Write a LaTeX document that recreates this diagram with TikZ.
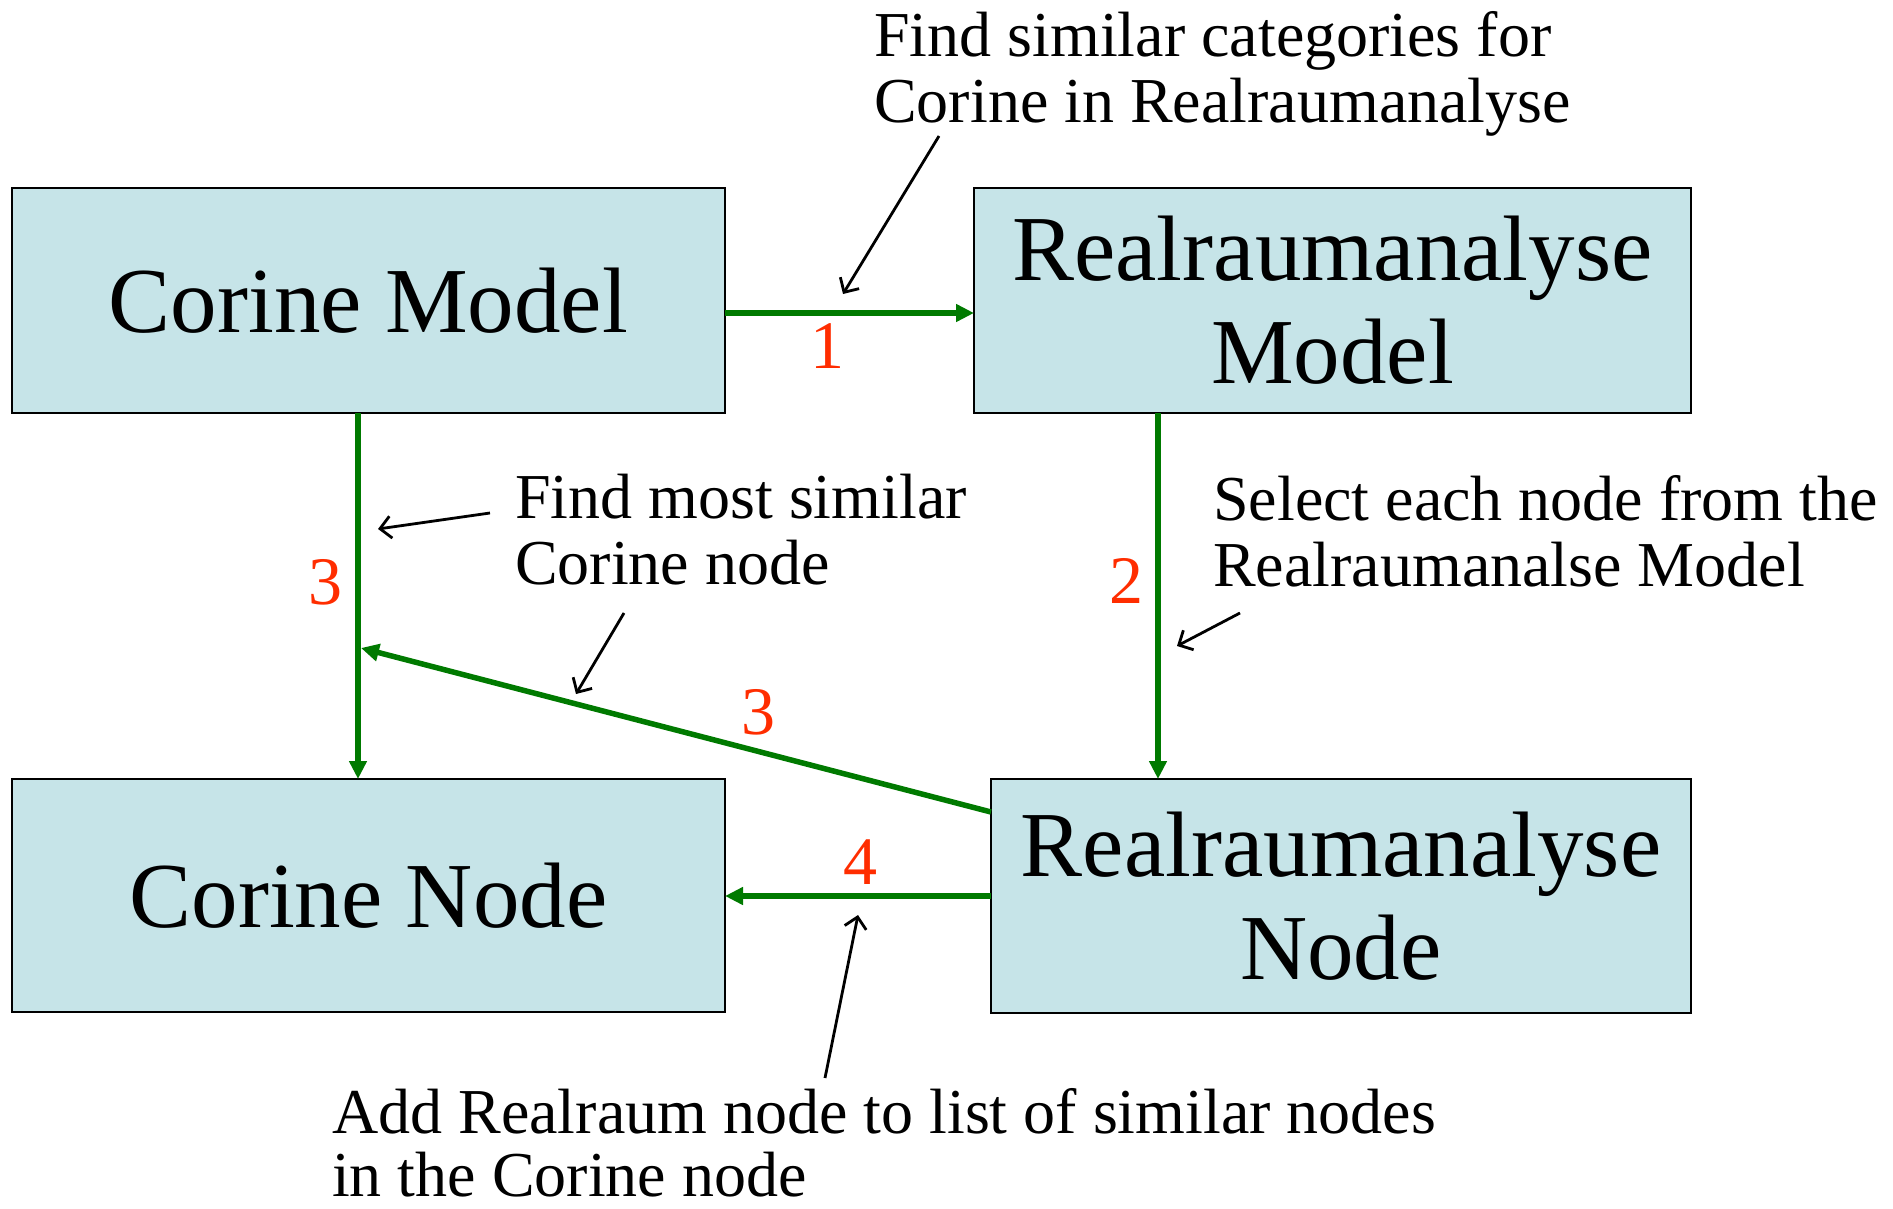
\documentclass[tikz,border=0pt]{standalone}
\usepackage{fontspec}
\setmainfont{Liberation Serif}
\usetikzlibrary{arrows.meta}
\definecolor{boxfill}{RGB}{198,228,232}
\definecolor{flowgreen}{RGB}{0,122,0}
\definecolor{numred}{RGB}{255,45,0}
\begin{document}
\begin{tikzpicture}[x=1pt,y=-1pt,
  box/.style={draw=black, line width=2.5pt, fill=boxfill, inner sep=0pt, outer sep=0pt, align=center, font=\fontsize{93}{103}\selectfont},
  flow/.style={draw=flowgreen, line width=5.5pt, -{Triangle[length=18pt,width=17pt]}},
  note/.style={draw=black, line width=2.8pt, -{Straight Barb[length=11pt,width=22pt]}},
  num/.style={text=numred, font=\fontsize{68}{68}\selectfont, inner sep=0pt},
  lbl/.style={anchor=base west, inner sep=0pt, font=\fontsize{64}{66}\selectfont}]
\useasboundingbox (0,0) rectangle (1893,1209);

% boxes
\node[box, minimum width=713pt, minimum height=225pt] (cm) at (368.5,300.5) {Corine Model};
\node[box, minimum width=717pt, minimum height=225pt] (rm) at (1332.5,300.5) {Realraumanalyse\\Model};
\node[box, minimum width=713pt, minimum height=233pt] (cn) at (368.5,895.5) {Corine Node};
\node[box, minimum width=700pt, minimum height=234pt] (rn) at (1341,896) {Realraumanalyse\\Node};

% green flow arrows
\draw[flow] ([yshift=-12.5pt]cm.east) -- ([yshift=-12.5pt]cm.east -| rm.west);
\draw[flow] ([xshift=-174.5pt]rm.south) -- ([xshift=-174.5pt]rm.south |- rn.north);
\draw[flow] ([xshift=-10.5pt]cm.south) -- ([xshift=-10.5pt]cm.south |- cn.north);
\coordinate (m3) at (361,648);
\draw[flow] ([yshift=-33pt]rn.north west) -- (m3);
\draw[flow] (rn.west) -- (rn.west -| cn.east);

% red step numbers
\node[num] (n1) at (827,346) {1};
\node[num] (n2) at (1126,581) {2};
\node[num] (n3a) at (325,582) {3};
\node[num] (n3b) at (758,712) {3};
\node[num] (n4) at (860,862) {4};

% annotation texts
\node[lbl] (t1a) at (874,57) {Find similar categories for};
\node[lbl] (t1b) at (874,123) {Corine in Realraumanalyse};
\node[lbl] (t2a) at (515,518) {Find most similar};
\node[lbl] (t2b) at (515,584) {Corine node};
\node[lbl] (t3a) at (1213,520) {Select each node from the};
\node[lbl] (t3b) at (1213,586) {Realraumanalse Model};
\node[lbl] (t4a) at (332,1133) {Add Realraum node to list of similar nodes};
\node[lbl] (t4b) at (332,1196) {in the Corine node};

% black annotation arrows
\coordinate (a1s) at (939,136); \coordinate (a1e) at (843,294);
\coordinate (a2s) at (490,513); \coordinate (a2e) at (378,529);
\coordinate (a3s) at (624,613); \coordinate (a3e) at (576,694);
\coordinate (a4s) at (1240,613); \coordinate (a4e) at (1177,646);
\coordinate (a5s) at (825,1078); \coordinate (a5e) at (858,915);
\draw[note] (a1s) -- (a1e);
\draw[note] (a2s) -- (a2e);
\draw[note] (a3s) -- (a3e);
\draw[note] (a4s) -- (a4e);
\draw[note] (a5s) -- (a5e);
\end{tikzpicture}
\end{document}
